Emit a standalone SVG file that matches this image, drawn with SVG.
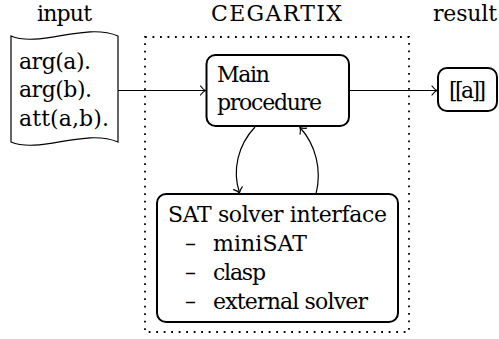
<svg xmlns="http://www.w3.org/2000/svg" width="499" height="339" viewBox="0 0 499 339">
<style>
text{font-family:"DejaVu Serif","Liberation Serif",serif;font-size:22px;fill:#000}
.box{fill:#fff;stroke:#000;stroke-width:2}
.conn{fill:none;stroke:#000;stroke-width:1.2}
.dots{fill:none;stroke:#000;stroke-width:1.8;stroke-dasharray:1.8 5.7}
</style>
<defs>
<marker id="arr" markerUnits="userSpaceOnUse" viewBox="-6 -6 8 12" markerWidth="8" markerHeight="12" refX="0" refY="0" orient="auto" overflow="visible">
<path d="M-5,-4.5 C-3,-1.8 -1.2,-0.5 0,0 C-1.2,0.5 -3,1.8 -5,4.5" fill="none" stroke="#000" stroke-width="1.2" stroke-linecap="round"/>
</marker>
</defs>
<g id="labels">
<text x="37" y="20.5" textLength="55">input</text>
<text x="211" y="20.5" textLength="131">CEGARTIX</text>
<text x="433" y="20.5" textLength="64">result</text>
</g>
<rect id="cegartix-frame" class="dots" x="145" y="37" width="264" height="295"/>
<g id="input">
<path d="M11,36 C40,48 85,22 118,36 L118,142 C85,128 40,154 11,142 Z" fill="#fff" stroke="#000" stroke-width="1.2"/>
<text x="19" y="68.5" textLength="72">arg(a).</text>
<text x="19" y="97" textLength="73">arg(b).</text>
<text x="19" y="125.5" textLength="90">att(a,b).</text>
</g>
<g id="main">
<rect class="box" x="206.5" y="55" width="142.5" height="71" rx="9"/>
<text x="217" y="82" textLength="53">Main</text>
<text x="217" y="110" textLength="105">procedure</text>
</g>
<g id="result">
<rect class="box" x="438" y="68" width="59" height="43" rx="9"/>
<text x="449" y="98" textLength="37">[[a]]</text>
</g>
<g id="sat">
<rect class="box" x="157" y="194" width="241" height="128" rx="9"/>
<text x="168" y="222" textLength="219">SAT solver interface</text>
<text x="185" y="251" textLength="12">–</text>
<text x="213" y="251" textLength="94">miniSAT</text>
<text x="185" y="280" textLength="12">–</text>
<text x="213" y="280" textLength="53">clasp</text>
<text x="185" y="309" textLength="12">–</text>
<text x="213" y="309" textLength="155">external solver</text>
</g>
<g id="connectors">
<path class="conn" d="M118,90.5 L205.5,90.5" marker-end="url(#arr)"/>
<path class="conn" d="M349,90.5 L437,90.5" marker-end="url(#arr)"/>
<path class="conn" d="M255,127 C238,145 232,170 239.5,193" marker-end="url(#arr)"/>
<path class="conn" d="M316,194 C322,170 316,145 300,127.5" marker-end="url(#arr)"/>
</g>
</svg>
